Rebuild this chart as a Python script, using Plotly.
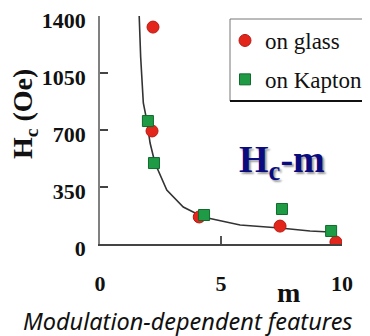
import plotly.graph_objects as go

# data
glass_m = [2.19, 2.15, 4.10, 7.44, 9.75]
glass_hc = [1332, 694, 166, 110, 12]
kapton_m = [1.98, 2.23, 4.30, 7.52, 9.55]
kapton_hc = [755, 497, 178, 215, 80]
fit_m = [1.62, 1.68, 1.79, 1.93, 2.07, 2.27, 2.76, 3.44, 4.26, 5.37, 5.79, 7.44, 8.68, 9.50]
fit_hc = [1400, 1148, 866, 761, 620, 497, 331, 227, 166, 129, 117, 98, 80, 74]
x_ticks = [0, 5, 10]
y_ticks = [0, 350, 700, 1050, 1400]

serif = "Liberation Serif, Times New Roman, serif"


def px(x):
    return (x - 100) / 242


def py(y):
    return (244 - y) / 228


fig = go.Figure()
fig.add_trace(go.Scatter(x=fit_m, y=fit_hc, mode="lines", line=dict(color="#333333", width=1.6),
                         showlegend=False, hoverinfo="skip"))
fig.add_trace(go.Scatter(x=glass_m, y=glass_hc, mode="markers", name="on glass", legendgroup="a",
                         marker=dict(symbol="circle", size=12, color="#e3261c",
                                     line=dict(color="#b81a12", width=1))))
fig.add_trace(go.Scatter(x=kapton_m, y=kapton_hc, mode="markers", name="on Kapton", legendgroup="b",
                         marker=dict(symbol="square", size=11, color="#1f9a45",
                                     line=dict(color="#0f6a2c", width=1))))

# page has an 8px body margin: figure is 8px smaller, all positions shift by -8
fig.update_layout(
    width=362, height=328,
    margin=dict(l=92, r=28, t=8, b=92, autoexpand=False),
    paper_bgcolor="white", plot_bgcolor="white",
    font=dict(family=serif, color="#111111"),
    showlegend=True,
    legend=dict(x=px(225), y=py(19), xanchor="left", yanchor="top",
                bgcolor="rgba(0,0,0,0)", borderwidth=0,
                font=dict(family=serif, size=23, color="#111111"),
                tracegroupgap=6, itemwidth=30),
    shapes=[
        dict(type="rect", xref="paper", yref="paper", x0=px(230), x1=px(380), y0=py(101), y1=py(19),
             line=dict(color="#777777", width=1), fillcolor="white", layer="above"),
        dict(type="line", xref="paper", yref="paper", x0=px(230), x1=px(380), y0=py(101), y1=py(101),
             line=dict(color="#111111", width=2), layer="above"),
    ],
    xaxis=dict(range=[0, 10], tickvals=x_ticks, ticktext=[str(v) for v in x_ticks],
               showgrid=False, zeroline=False, showline=True, linecolor="#444444", linewidth=2,
               ticks="inside", ticklen=8, tickwidth=1.5, tickcolor="#555555",
               ticklabelstandoff=19, ticklabeloverflow="allow",
               tickfont=dict(family=serif, size=22, color="#111111", weight="bold")),
    yaxis=dict(range=[0, 1400], tickvals=y_ticks, ticktext=[str(v) for v in y_ticks],
               showgrid=False, zeroline=False, showline=True, linecolor="#808080", linewidth=1.5,
               ticks="inside", ticklen=8, tickwidth=1.5, tickcolor="#444444",
               ticklabelstandoff=8, ticklabeloverflow="allow", ticklabelshift=4,
               tickfont=dict(family=serif, size=22, color="#111111", weight="bold")),
    annotations=[
        dict(text="<b>H<sub>c</sub> (Oe)</b>", xref="paper", yref="paper",
             x=px(24), y=py(114), textangle=-90, showarrow=False, borderpad=0,
             xanchor="center", yanchor="middle",
             font=dict(family=serif, size=28, color="#111111")),
        dict(text="<b>m</b>", xref="paper", yref="paper",
             x=px(288), y=py(292), showarrow=False,
             xanchor="center", yanchor="middle",
             font=dict(family=serif, size=28, color="#111111")),
        dict(text="<b>H<sub>c</sub>-m</b>", xref="paper", yref="paper",
             x=px(282), y=py(162), showarrow=False,
             xanchor="center", yanchor="middle",
             font=dict(family=serif, size=38, color="#0b0b80", shadow="2px 2px 2px #9a9a9a")),
        dict(text="Modulation-dependent features", xref="paper", yref="paper",
             x=px(187.5), y=py(321), showarrow=False,
             xanchor="center", yanchor="middle",
             font=dict(family="Noto Sans", size=23.5, color="#111111", style="italic")),
    ],
)

fig.write_html("out.html")
